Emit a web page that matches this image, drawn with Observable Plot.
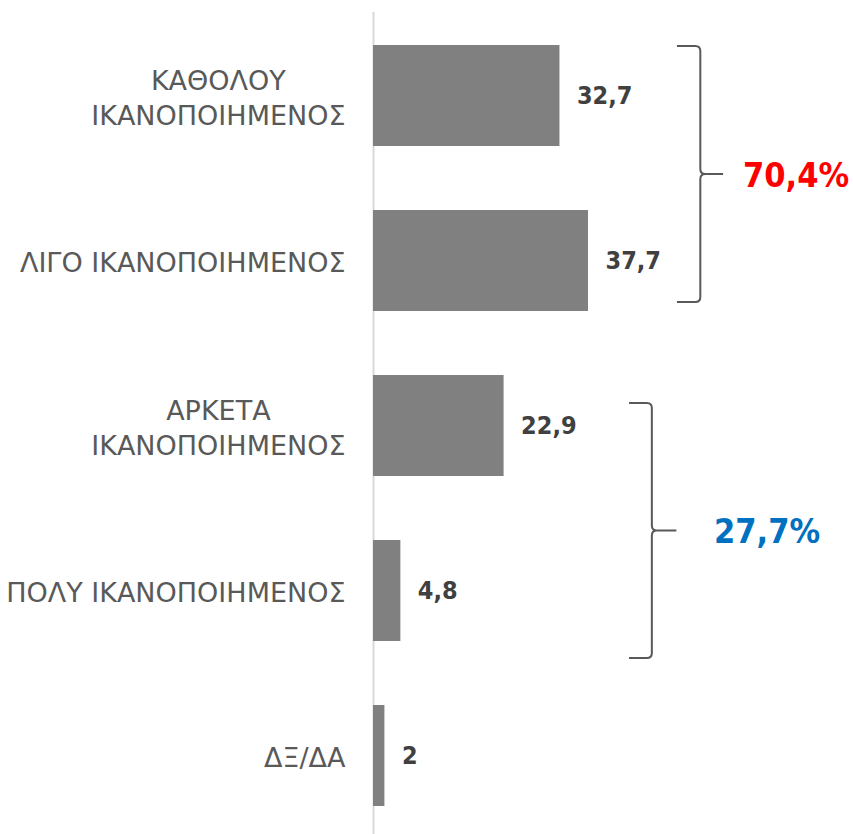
<!DOCTYPE html>
<html>
<head>
<meta charset="utf-8">
<script src="https://cdn.jsdelivr.net/npm/d3@7"></script>
<script src="https://cdn.jsdelivr.net/npm/@observablehq/plot@0.6"></script>
<style>
  html, body { margin: 0; padding: 0; background: #ffffff; }
  #chart svg { display: block; }
</style>
</head>
<body>
<div id="chart"></div>
<script>
// ---- data ----
const categories = [
  "ΚΑΘΟΛΟΥ\nΙΚΑΝΟΠΟΙΗΜΕΝΟΣ",
  "ΛΙΓΟ ΙΚΑΝΟΠΟΙΗΜΕΝΟΣ",
  "ΑΡΚΕΤΑ\nΙΚΑΝΟΠΟΙΗΜΕΝΟΣ",
  "ΠΟΛΥ ΙΚΑΝΟΠΟΙΗΜΕΝΟΣ",
  "ΔΞ/ΔΑ"
];
const values = [32.7, 37.7, 22.9, 4.8, 2];
const valueLabels = ["32,7", "37,7", "22,9", "4,8", "2"];
const groupFirst = [0, 2];
const groupLast = [1, 3];
const groupTotals = ["70,4%", "27,7%"];

// ---- layout / style (not data) ----
const groupStyle = [
  {color: "#ff0000", bracketX: 57.4, leftX: 53.3, tipX: 61.4, labelX: 74.2, topOff: 1, botOff: -9},
  {color: "#0070c0", bracketX: 48.9, leftX: 44.9, tipX: 53.2, labelX: 69.1, topOff: 28, botOff: 17}
];

const rows = categories.map((c, i) => ({category: c, value: values[i], label: valueLabels[i]}));
const FONT = "'DejaVu Sans Condensed', 'DejaVu Sans', sans-serif";
const CAT_FONT = "'DejaVu Sans', sans-serif";
const CAT_SIZE = 27;

// measure the widest line of each category label so multi-line labels are centred as a block
const ctx = document.createElement("canvas").getContext("2d");
ctx.font = `${CAT_SIZE}px 'DejaVu Sans'`;
const blockWidth = c => d3.max(c.split("\n"), s => ctx.measureText(s).width);

function brackets(index, scales, vals, dims, context) {
  const x = scales.x, y = scales.y;
  const bw = typeof y.bandwidth === "function" ? y.bandwidth() : y.bandwidth;
  const g = d3.create("svg:g");
  groupFirst.forEach((f, k) => {
    const s = groupStyle[k];
    const yt = y(categories[f]) + s.topOff;
    const yb = y(categories[groupLast[k]]) + bw + s.botOff;
    const ym = (yt + yb) / 2;
    const xv = x(s.bracketX), xl = x(s.leftX), xt = x(s.tipX);
    const r = 5;
    const p = [
      `M${xl},${yt}`, `L${xv - r},${yt}`, `Q${xv},${yt} ${xv},${yt + r}`,
      `L${xv},${ym - r}`, `Q${xv},${ym} ${xv + r},${ym}`, `L${xt},${ym}`,
      `M${xv + r},${ym}`, `Q${xv},${ym} ${xv},${ym + r}`,
      `L${xv},${yb - r}`, `Q${xv},${yb} ${xv - r},${yb}`, `L${xl},${yb}`
    ].join("");
    g.append("path").attr("d", p).attr("fill", "none")
      .attr("stroke", "#595959").attr("stroke-width", 2);
    g.append("text")
      .attr("x", x(s.labelX)).attr("y", ym + 3)
      .attr("text-anchor", "middle").attr("dominant-baseline", "middle")
      .attr("font-family", FONT).attr("font-weight", "bold").attr("font-size", 34)
      .attr("fill", s.color)
      .text(groupTotals[k]);
  });
  return g.node();
}

const chart = Plot.plot({
  width: 853,
  height: 834,
  marginLeft: 373,
  marginRight: 1,
  marginTop: 12,
  marginBottom: 0,
  style: {fontFamily: FONT, color: "#595959", background: "#ffffff"},
  x: {domain: [0, 84], axis: null},
  y: {domain: categories, paddingInner: 0.39, paddingOuter: 0.181, align: 0.53, axis: null},
  marks: [
    Plot.ruleX([0], {stroke: "#d9d9d9", strokeWidth: 2}),
    Plot.barX(rows, {x: "value", y: "category", fill: "#808080"}),
    Plot.text(rows, {x: "value", y: "category", text: "label", textAnchor: "start", dx: 17,
      fontWeight: "bold", fontSize: 25, fill: "#404040"}),
    categories.map(c => Plot.axisY({
      ticks: [c], tickSize: 0, tickPadding: 28, textAnchor: "middle", dx: -blockWidth(c) / 2,
      fontSize: CAT_SIZE, fontFamily: CAT_FONT, lineHeight: 1.3, fill: "#595959", label: null
    })),
    brackets
  ]
});
document.getElementById("chart").appendChild(chart);
</script>
</body>
</html>
